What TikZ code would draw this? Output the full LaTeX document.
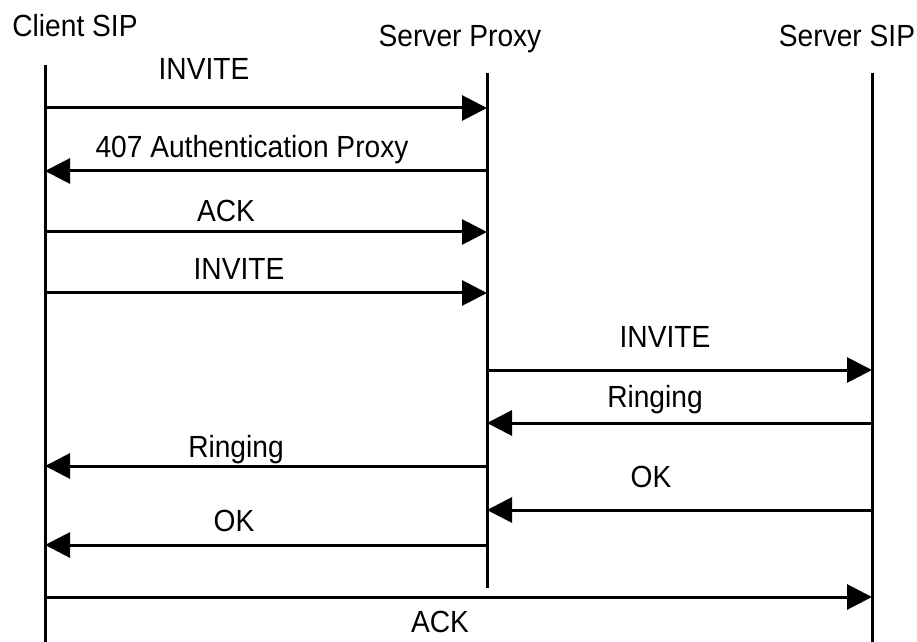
\documentclass[tikz,border=0pt]{standalone}
\usepackage{fontspec}
\setmainfont{Liberation Sans}[FakeStretch=0.92]
\usetikzlibrary{arrows.meta}
\begin{document}
\begin{tikzpicture}[x=0.5pt,y=-0.5pt,
  lifeline/.style={line width=1.5pt},
  msg/.style={line width=1.5pt,-{Triangle[length=12.5pt,width=12.5pt]}},
  lbl/.style={inner sep=0pt,anchor=base,font=\fontsize{15.3}{17}\selectfont}]
\useasboundingbox (0,0) rectangle (917,642);
% lifelines
\coordinate (ct) at (45,65);  \coordinate (cb) at (45,642);
\coordinate (pt) at (487,73); \coordinate (pb) at (487,588);
\coordinate (st) at (872,73); \coordinate (sb) at (872,642);
\draw[lifeline] (ct) -- (cb);
\draw[lifeline] (pt) -- (pb);
\draw[lifeline] (st) -- (sb);
% headers
\node[lbl] (hc) at (75,37) {Client SIP};
\node[lbl] (hp) at (460,47) {Server Proxy};
\node[lbl] (hs) at (847,47) {Server SIP};
% message endpoints
\coordinate (c1) at (45,108);  \coordinate (p1) at (487,108);
\coordinate (c2) at (45,171);  \coordinate (p2) at (487,171);
\coordinate (c3) at (45,232);  \coordinate (p3) at (487,232);
\coordinate (c4) at (45,293);  \coordinate (p4) at (487,293);
\coordinate (p5) at (487,370); \coordinate (s5) at (872,370);
\coordinate (p6) at (487,423); \coordinate (s6) at (872,423);
\coordinate (c7) at (45,466);  \coordinate (p7) at (487,466);
\coordinate (p8) at (487,510); \coordinate (s8) at (872,510);
\coordinate (c9) at (45,545);  \coordinate (p9) at (487,545);
\coordinate (c10) at (45,597); \coordinate (s10) at (872,597);
% messages
\draw[msg] (c1) -- (p1);
\draw[msg] (p2) -- (c2);
\draw[msg] (c3) -- (p3);
\draw[msg] (c4) -- (p4);
\draw[msg] (p5) -- (s5);
\draw[msg] (s6) -- (p6);
\draw[msg] (p7) -- (c7);
\draw[msg] (s8) -- (p8);
\draw[msg] (p9) -- (c9);
\draw[msg] (c10) -- (s10);
% labels
\node[lbl] (l1) at (204,80) {INVITE};
\node[lbl] (l2) at (252,158) {407 Authentication Proxy};
\node[lbl] (l3) at (226,221) {ACK};
\node[lbl] (l4) at (239,279) {INVITE};
\node[lbl] (l5) at (665,348) {INVITE};
\node[lbl] (l6) at (655,408) {Ringing};
\node[lbl] (l7) at (236,457) {Ringing};
\node[lbl] (l8) at (651,487) {OK};
\node[lbl] (l9) at (234,531) {OK};
\node[lbl] (l10) at (440,632) {ACK};
\end{tikzpicture}
\end{document}
